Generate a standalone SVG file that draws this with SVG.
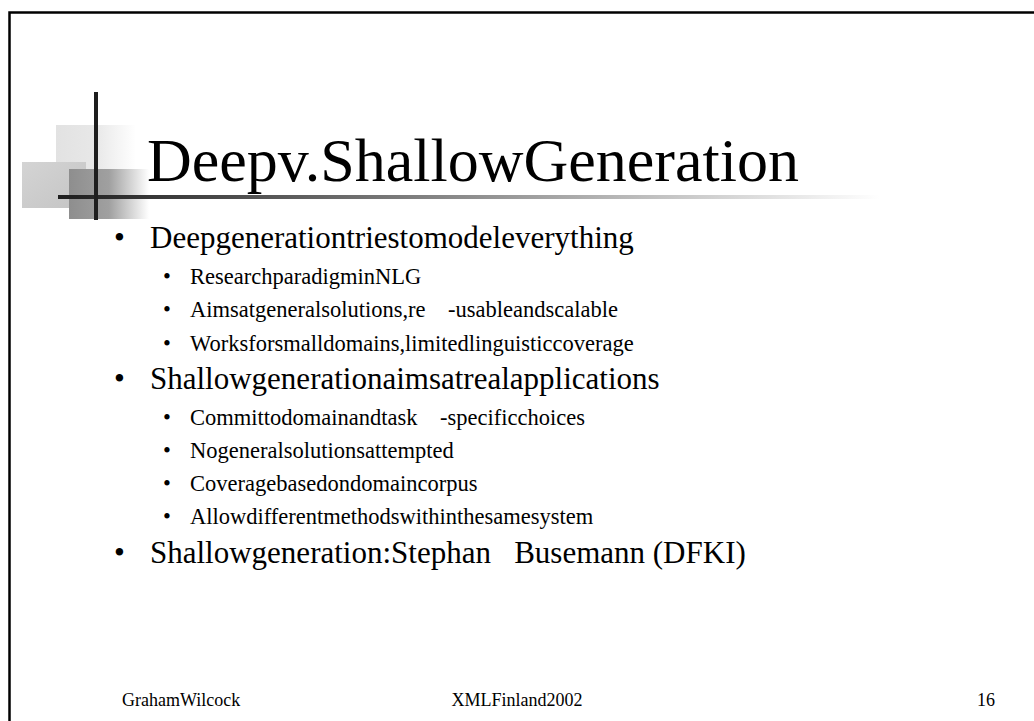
<svg xmlns="http://www.w3.org/2000/svg" width="1034" height="721" viewBox="0 0 1034 721">
  <style>
    .t { font-family: "Liberation Serif", "Times New Roman", "DejaVu Serif", serif; fill: #000; }
    .title { font-size: 62px; }
    .l1 { font-size: 31px; }
    .l2 { font-size: 22.5px; }
    .ft { font-size: 18px; }
  </style>
  <defs>
    <linearGradient id="gLight" x1="0" y1="0" x2="1" y2="0">
      <stop offset="0" stop-color="#e2e2e2"/>
      <stop offset="0.5" stop-color="#e8e8e8"/>
      <stop offset="1" stop-color="#ffffff"/>
    </linearGradient>
    <linearGradient id="gMid" x1="0" y1="0" x2="1" y2="1">
      <stop offset="0" stop-color="#d4d4d4"/>
      <stop offset="1" stop-color="#c4c4c4"/>
    </linearGradient>
    <linearGradient id="gDark" x1="0" y1="0" x2="1" y2="0">
      <stop offset="0" stop-color="#8e8e8e"/>
      <stop offset="0.5" stop-color="#a0a0a0"/>
      <stop offset="1" stop-color="#ffffff"/>
    </linearGradient>
    <linearGradient id="gLine" x1="58" y1="0" x2="880" y2="0" gradientUnits="userSpaceOnUse">
      <stop offset="0" stop-color="#1e1e1e"/>
      <stop offset="0.25" stop-color="#555555"/>
      <stop offset="1" stop-color="#ffffff"/>
    </linearGradient>
  </defs>
  <rect x="0" y="0" width="1034" height="721" fill="#ffffff"/>
  <g id="frame">
    <path d="M9.5 721 V12.5 H1034" fill="none" stroke="#000" stroke-width="2.5"/>
  </g>
  <g id="decoration">
    <rect x="56" y="125" width="80" height="50" fill="url(#gLight)"/>
    <rect x="22" y="162" width="64" height="46" fill="url(#gMid)"/>
    <rect x="69" y="169" width="80" height="50" fill="url(#gDark)"/>
    <rect x="58" y="195" width="822" height="4" fill="url(#gLine)"/>
    <rect x="94" y="92" width="4" height="128" fill="#1e1e1e"/>
  </g>
  <g id="title">
    <text class="t title" x="147" y="181">Deepv.ShallowGeneration</text>
  </g>
  <g id="bullets">
    <text class="t l1" x="114" y="248">•</text>
    <text class="t l1" x="150" y="248">Deepgenerationtriestomodeleverything</text>
    <text class="t l2" x="163" y="284">•</text>
    <text class="t l2" x="190" y="284">ResearchparadigminNLG</text>
    <text class="t l2" x="163" y="317">•</text>
    <text class="t l2" x="190" y="317" xml:space="preserve">Aimsatgeneralsolutions,re    -usableandscalable</text>
    <text class="t l2" x="163" y="351">•</text>
    <text class="t l2" x="190" y="351">Worksforsmalldomains,limitedlinguisticcoverage</text>
    <text class="t l1" x="114" y="389">•</text>
    <text class="t l1" x="150" y="389">Shallowgenerationaimsatrealapplications</text>
    <text class="t l2" x="163" y="425">•</text>
    <text class="t l2" x="190" y="425" xml:space="preserve">Committodomainandtask    -specificchoices</text>
    <text class="t l2" x="163" y="458">•</text>
    <text class="t l2" x="190" y="458">Nogeneralsolutionsattempted</text>
    <text class="t l2" x="163" y="491">•</text>
    <text class="t l2" x="190" y="491">Coveragebasedondomaincorpus</text>
    <text class="t l2" x="163" y="524">•</text>
    <text class="t l2" x="190" y="524">Allowdifferentmethodswithinthesamesystem</text>
    <text class="t l1" x="114" y="563">•</text>
    <text class="t l1" x="150" y="563" xml:space="preserve">Shallowgeneration:Stephan   Busemann (DFKI)</text>
  </g>
  <g id="footer">
    <text class="t ft" x="122" y="706">GrahamWilcock</text>
    <text class="t ft" x="517" y="706" text-anchor="middle">XMLFinland2002</text>
    <text class="t ft" x="995" y="706" text-anchor="end">16</text>
  </g>
</svg>
